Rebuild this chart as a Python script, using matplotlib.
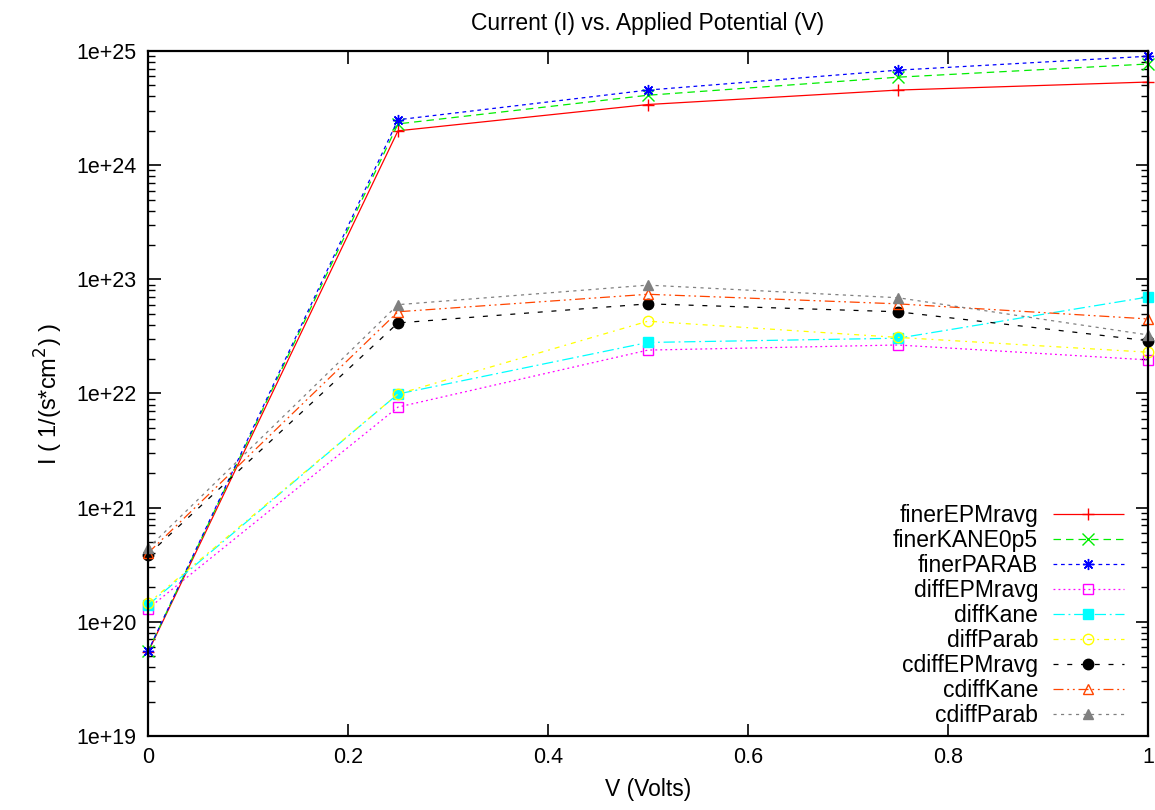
import matplotlib
matplotlib.use("Agg")
import matplotlib.pyplot as plt
from matplotlib.ticker import LogLocator, FixedLocator, FuncFormatter, NullFormatter
import numpy as np

plt.rcParams['font.family'] = ['Liberation Sans', 'DejaVu Sans']

# data
volts = [0.0, 0.25, 0.5, 0.75, 1.0]

finer_epm = [5.4e19, 2.0e24, 3.4e24, 4.55e24, 5.35e24]
finer_kane = [5.5e19, 2.3e24, 4.1e24, 5.9e24, 7.7e24]
finer_parab = [5.5e19, 2.5e24, 4.55e24, 6.8e24, 9.0e24]
diff_epm = [1.3e20, 7.6e21, 2.4e22, 2.66e22, 1.97e22]
diff_kane = [1.4e20, 9.9e21, 2.8e22, 3.05e22, 7.0e22]
diff_parab = [1.45e20, 9.9e21, 4.3e22, 3.1e22, 2.3e22]
cdiff_epm = [3.85e20, 4.15e22, 6.1e22, 5.2e22, 2.9e22]
cdiff_kane = [4.0e20, 5.2e22, 7.4e22, 6.1e22, 4.5e22]
cdiff_parab = [4.4e20, 6.0e22, 8.9e22, 6.9e22, 3.26e22]

labels = ['finerEPMravg', 'finerKANE0p5', 'finerPARAB', 'diffEPMravg', 'diffKane',
          'diffParab', 'cdiffEPMravg', 'cdiffKane', 'cdiffParab']
series = [finer_epm, finer_kane, finer_parab, diff_epm, diff_kane,
          diff_parab, cdiff_epm, cdiff_kane, cdiff_parab]

y_ticks = [1e19, 1e20, 1e21, 1e22, 1e23, 1e24, 1e25]

# gnuplot-like styles: colour, dash pattern, marker, filled
styles = [
    ('#ff0000', (0, ()), '+', True),
    ('#00ee00', (0, (6, 4)), 'x', True),
    ('#0000ff', (0, (3, 3)), (8, 2, 0), True),
    ('#ff00ff', (0, (1.5, 2.5)), 's', False),
    ('#00ffff', (0, (9, 3, 1.5, 3)), 's', True),
    ('#ffff00', (0, (4, 4, 1.5, 4)), 'o', False),
    ('#000000', (0, (4, 7)), 'o', True),
    ('#ff4500', (0, (8, 3, 1.5, 3, 1.5, 3)), '^', False),
    ('#808080', (0, (2.5, 3.5)), '^', True),
]

fig = plt.figure(figsize=(11.55, 8.1), dpi=100)
ax = fig.add_axes([0.1281, 0.0914, 0.8658, 0.8456])

for lab, vals, (col, ls, mk, filled) in zip(labels, series, styles):
    ax.plot(volts, vals, color=col, linestyle=ls, linewidth=0.9,
            marker=mk, markersize=8 if mk not in ('o', 's', '^') else 7.5,
            markeredgewidth=1.0,
            markerfacecolor=col if filled else 'none',
            markeredgecolor=col, label=lab, clip_on=False)

ax.set_yscale('log')
ax.set_ylim(1e19, 1e25)
ax.set_xlim(0, 1)
ax.set_xticks([0, 0.2, 0.4, 0.6, 0.8, 1.0])
ax.set_xticklabels(['0', '0.2', '0.4', '0.6', '0.8', '1'])
ax.yaxis.set_major_locator(FixedLocator(y_ticks))
ax.yaxis.set_minor_locator(LogLocator(base=10, subs=np.arange(2, 10), numticks=20))
ax.yaxis.set_major_formatter(FuncFormatter(lambda v, p: '1e+%d' % int(round(np.log10(v)))))
ax.yaxis.set_minor_formatter(NullFormatter())

ax.tick_params(which='both', direction='in', top=True, right=True, labelsize=15.5)
ax.tick_params(which='major', length=9, width=1.2, pad=8)
ax.tick_params(which='minor', length=5, width=1.0)
for sp in ax.spines.values():
    sp.set_linewidth(1.6)

ax.set_title('Current (I) vs. Applied Potential (V)', fontsize=16.5, pad=15)
ax.set_xlabel('V (Volts)', fontsize=16.5, labelpad=7)
ax.set_ylabel('I ( 1/(s*cm$^2$) )', fontsize=17, labelpad=8)

ax.legend(loc='lower right', bbox_to_anchor=(0.976, 0.013), frameon=False,
          markerfirst=False, fontsize=16.5, handlelength=3.1, handletextpad=0.65,
          labelspacing=0.09, borderpad=0, borderaxespad=0)

fig.savefig('out.png', dpi=100)
